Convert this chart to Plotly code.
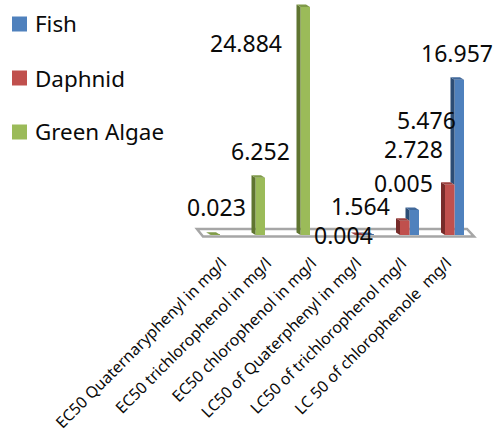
import plotly.graph_objects as go

WIDTH, HEIGHT = 496, 433
FONT = "Noto Sans"

categories = [
    "EC50 Quaternaryphenyl in mg/l",
    "EC50 trichlorophenol in mg/l",
    "EC50 chlorophenol in mg/l",
    "LC50 of Quaterphenyl in mg/l",
    "LC50 of trichlorophenol mg/l",
    "LC 50 of chlorophenole  mg/l",
]
fish = [None, None, None, 0.005, 2.728, 16.957]
daphnid = [None, None, None, 0.004, 1.564, 5.476]
green_algae = [0.023, 6.252, 24.884, None, None, None]

series_names = ["Fish", "Daphnid", "Green Algae"]
series_values = [fish, daphnid, green_algae]
front_colors = ["#4F81BD", "#C0504D", "#9BBB59"]
side_colors = ["#2C4D75", "#772C2A", "#5F7530"]
top_colors = ["#41699B", "#9E403E", "#7F9A48"]

# Axis scales: pixels per category and per value unit
PX_PER_CAT = 45.0
PX_PER_UNIT = 9.16
ZERO_X = 224.75
ZERO_Y = 235.0
AXIS_BOTTOM = 240.0
BAR_PX = 9.5
DEPTH_X, DEPTH_Y = 4.0, 2.5

def dx(px):
    return px / PX_PER_CAT

def dy(px):
    return px / PX_PER_UNIT

def x_at(px):
    return (px - ZERO_X) / PX_PER_CAT

def y_at(px):
    return (ZERO_Y - px) / PX_PER_UNIT

offsets = {"Fish": dx(BAR_PX), "Daphnid": 0.0, "Green Algae": -dx(BAR_PX)}
half = dx(BAR_PX) / 2

fig = go.Figure()

# Front faces
for name, values, color in zip(series_names, series_values, front_colors):
    fig.add_trace(go.Bar(
        x=[i + offsets[name] for i in range(len(categories))],
        y=values, width=dx(BAR_PX), name=name,
        marker=dict(color=color, line=dict(width=0)),
        showlegend=False, hoverinfo="skip",
    ))

# Side and top faces give the bars their depth
for s, (name, values) in enumerate(zip(series_names, series_values)):
    for i, v in enumerate(values):
        if v is None:
            continue
        left = i + offsets[name] - half
        right = i + offsets[name] + half
        base = 0.0
        if name == "Fish" and daphnid[i] is not None:
            base = daphnid[i]
        if v > base:
            fig.add_trace(go.Scatter(
                x=[left, left, left - dx(DEPTH_X), left - dx(DEPTH_X), left],
                y=[base, v, v + dy(DEPTH_Y), base + dy(DEPTH_Y), base],
                mode="lines", fill="toself", fillcolor=side_colors[s],
                line=dict(width=0), showlegend=False, hoverinfo="skip",
            ))
        fig.add_trace(go.Scatter(
            x=[left, right, right - dx(DEPTH_X), left - dx(DEPTH_X), left],
            y=[v, v, v + dy(DEPTH_Y), v + dy(DEPTH_Y), v],
            mode="lines", fill="toself", fillcolor=top_colors[s],
            line=dict(width=0), showlegend=False, hoverinfo="skip",
        ))

# Key: swatch and name for each series
key_rows = [24, 78, 132]
for name, color, row in zip(series_names, front_colors, key_rows):
    fig.add_shape(type="rect", xref="paper", yref="paper",
                  x0=12 / WIDTH, x1=27 / WIDTH,
                  y0=1 - (row + 7.5) / HEIGHT, y1=1 - (row - 7.5) / HEIGHT,
                  fillcolor=color, line=dict(width=0))
    fig.add_annotation(
        x=32.5 / WIDTH, y=1 - row / HEIGHT, xref="paper", yref="paper", text=name,
        showarrow=False, xanchor="left", yanchor="middle",
        font=dict(family=FONT, size=22.4, color="#0A0A0A"),
    )

# Value labels: (text, centre x, centre y) in pixels
value_labels = [
    ("0.023", 216, 207), ("6.252", 260, 151), ("24.884", 246, 43),
    ("0.004", 343, 235), ("1.564", 360, 206), ("0.005", 403, 183),
    ("2.728", 413, 149), ("5.476", 426, 120), ("16.957", 457, 53),
]
for text, px, py in value_labels:
    fig.add_annotation(
        x=px / WIDTH, y=1 - py / HEIGHT, xref="paper", yref="paper", text=text,
        showarrow=False, xanchor="center", yanchor="middle",
        font=dict(family=FONT, size=23, color="#0A0A0A"),
    )

# Chart floor
floor = [(197, 229), (467, 229), (474, 236.5), (203, 236.5)]
path = "M" + " L".join(f"{x_at(a)},{y_at(b)}" for a, b in floor) + " Z"
fig.add_shape(type="path", path=path, xref="x", yref="y", layer="below",
              fillcolor="white", line=dict(color="#A6A6A6", width=2.5))

fig.update_layout(
    width=WIDTH, height=HEIGHT, margin=dict(l=0, r=0, t=0, b=0),
    paper_bgcolor="white", plot_bgcolor="rgba(0,0,0,0)",
    barmode="overlay", showlegend=False,
    xaxis=dict(
        range=[x_at(0), x_at(WIDTH)], tickmode="array",
        tickvals=list(range(len(categories))), ticktext=categories,
        tickangle=-45, ticks="", ticklabelstandoff=10, ticklabelshift=-3,
        showgrid=False, zeroline=False, showline=False, automargin=False,
        tickfont=dict(family=FONT, size=15.8, color="#0A0A0A"),
    ),
    yaxis=dict(
        domain=[1 - AXIS_BOTTOM / HEIGHT, 1], range=[y_at(AXIS_BOTTOM), y_at(0)],
        visible=False,
    ),
    font=dict(family=FONT),
)

fig.write_html("out.html")
